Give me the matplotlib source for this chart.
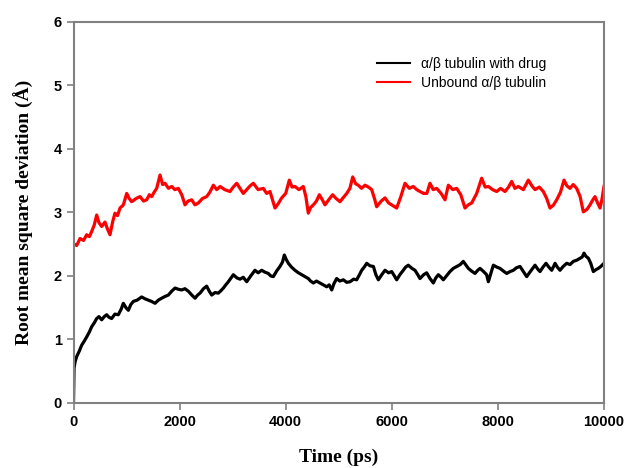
import matplotlib
matplotlib.use("Agg")
import matplotlib.pyplot as plt

# RMSD traces (time in ps, RMSD in Angstrom)
bound_t = [0, 10, 30, 60, 110, 154, 200, 248, 300, 342, 390, 437, 480, 531, 580,
           625, 670, 719, 780, 845, 900, 939, 990, 1034, 1080, 1128, 1200, 1285,
           1350, 1411, 1470, 1537, 1600, 1662, 1730, 1788, 1850, 1914, 1980, 2040,
           2100, 2165, 2230, 2291, 2340, 2385, 2450, 2510, 2560, 2605, 2670, 2730,
           2780, 2825, 2870, 2919, 2970, 3013, 3080, 3139, 3200, 3265, 3340, 3421,
           3480, 3547, 3610, 3672, 3720, 3767, 3830, 3892, 3940, 3974, 4010, 4050,
           4110, 4175, 4240, 4301, 4360, 4426, 4470, 4521, 4580, 4647, 4710, 4773,
           4820, 4867, 4910, 4961, 5020, 5087, 5150, 5213, 5280, 5338, 5390, 5433,
           5480, 5527, 5590, 5653, 5700, 5747, 5810, 5872, 5940, 5998, 6050, 6092,
           6160, 6217, 6260, 6311, 6380, 6437, 6490, 6531, 6600, 6657, 6720, 6783,
           6830, 6877, 6930, 6971, 7030, 7097, 7160, 7223, 7290, 7348, 7400, 7443,
           7500, 7568, 7620, 7663, 7730, 7788, 7820, 7870, 7914, 7980, 8040, 8100,
           8166, 8230, 8291, 8350, 8417, 8480, 8543, 8620, 8700, 8750, 8794, 8850,
           8907, 8960, 9014, 9050, 9077, 9120, 9171, 9230, 9297, 9360, 9422, 9490,
           9548, 9590, 9623, 9660, 9705, 9750, 9799, 9850, 9893, 9940, 10000]
bound_rmsd = [0.00, 0.55, 0.65, 0.73, 0.82, 0.91, 0.97, 1.04, 1.12, 1.20, 1.26, 1.33,
              1.36, 1.31, 1.36, 1.39, 1.35, 1.33, 1.40, 1.39, 1.48, 1.57, 1.50, 1.46,
              1.55, 1.60, 1.62, 1.67, 1.64, 1.62, 1.60, 1.57, 1.62, 1.65, 1.68, 1.70,
              1.76, 1.81, 1.79, 1.78, 1.80, 1.76, 1.70, 1.65, 1.70, 1.73, 1.80, 1.84,
              1.76, 1.70, 1.74, 1.73, 1.77, 1.81, 1.86, 1.91, 1.97, 2.02, 1.97, 1.95,
              1.98, 1.91, 2.00, 2.09, 2.05, 2.09, 2.06, 2.04, 2.00, 1.99, 2.08, 2.15,
              2.22, 2.33, 2.26, 2.20, 2.14, 2.09, 2.05, 2.02, 1.99, 1.96, 1.92, 1.89,
              1.92, 1.89, 1.86, 1.83, 1.86, 1.78, 1.88, 1.96, 1.92, 1.94, 1.90, 1.91,
              1.95, 1.94, 2.02, 2.09, 2.14, 2.20, 2.16, 2.15, 2.02, 1.94, 2.02, 2.09,
              2.05, 2.07, 2.00, 1.94, 2.03, 2.09, 2.14, 2.17, 2.12, 2.09, 2.02, 1.96,
              2.02, 2.05, 1.96, 1.89, 1.97, 2.02, 1.98, 1.94, 2.00, 2.07, 2.12, 2.15,
              2.18, 2.23, 2.17, 2.12, 2.08, 2.04, 2.09, 2.12, 2.07, 2.02, 1.91, 2.05,
              2.17, 2.14, 2.12, 2.08, 2.04, 2.07, 2.09, 2.13, 2.15, 2.07, 1.99, 2.08,
              2.17, 2.11, 2.07, 2.14, 2.20, 2.14, 2.09, 2.15, 2.20, 2.14, 2.09, 2.15,
              2.20, 2.18, 2.23, 2.25, 2.28, 2.30, 2.36, 2.31, 2.28, 2.20, 2.07, 2.10,
              2.12, 2.15, 2.20]

unbound_t = [0, 60, 123, 190, 248, 300, 342, 390, 437, 480, 531, 594, 640, 688, 740,
             782, 830, 877, 940, 1003, 1050, 1097, 1180, 1254, 1320, 1380, 1430, 1474,
             1520, 1568, 1631, 1680, 1725, 1790, 1851, 1910, 1976, 2040, 2102, 2160,
             2228, 2290, 2353, 2430, 2510, 2570, 2636, 2700, 2762, 2850, 2950, 3010,
             3077, 3139, 3200, 3265, 3330, 3390, 3480, 3578, 3640, 3704, 3798, 3860,
             3924, 4000, 4068, 4120, 4175, 4250, 4332, 4380, 4426, 4470, 4521, 4580,
             4634, 4690, 4741, 4810, 4885, 4950, 5024, 5090, 5150, 5210, 5263, 5320,
             5369, 5430, 5495, 5560, 5621, 5680, 5715, 5800, 5872, 5940, 5998, 6092,
             6170, 6249, 6330, 6405, 6470, 6531, 6600, 6660, 6720, 6780, 6846, 6930,
             7003, 7066, 7150, 7223, 7300, 7380, 7440, 7506, 7600, 7694, 7760, 7820,
             7900, 7977, 8050, 8134, 8200, 8260, 8320, 8385, 8480, 8574, 8640, 8700,
             8780, 8856, 8920, 8982, 9050, 9108, 9180, 9246, 9300, 9359, 9420, 9485,
             9550, 9610, 9680, 9736, 9790, 9830, 9880, 9925, 9960, 10000]
unbound_rmsd = [2.51, 2.48, 2.59, 2.56, 2.65, 2.62, 2.70, 2.80, 2.96, 2.84, 2.78, 2.85,
                2.74, 2.65, 2.86, 2.99, 2.95, 3.07, 3.12, 3.30, 3.22, 3.17, 3.22, 3.25,
                3.18, 3.20, 3.28, 3.25, 3.32, 3.38, 3.59, 3.44, 3.46, 3.38, 3.41, 3.36,
                3.38, 3.28, 3.12, 3.18, 3.20, 3.12, 3.15, 3.22, 3.25, 3.32, 3.43, 3.36,
                3.41, 3.36, 3.33, 3.40, 3.46, 3.38, 3.30, 3.36, 3.42, 3.46, 3.36, 3.38,
                3.30, 3.33, 3.07, 3.14, 3.23, 3.30, 3.51, 3.40, 3.41, 3.36, 3.41, 3.25,
                2.99, 3.08, 3.12, 3.18, 3.28, 3.20, 3.12, 3.20, 3.28, 3.22, 3.17, 3.24,
                3.30, 3.38, 3.56, 3.45, 3.43, 3.38, 3.43, 3.40, 3.36, 3.20, 3.09, 3.18,
                3.23, 3.15, 3.12, 3.07, 3.25, 3.46, 3.38, 3.41, 3.36, 3.33, 3.30, 3.30,
                3.46, 3.36, 3.38, 3.30, 3.20, 3.43, 3.36, 3.38, 3.28, 3.07, 3.12, 3.15,
                3.30, 3.54, 3.40, 3.41, 3.36, 3.33, 3.38, 3.33, 3.40, 3.49, 3.38, 3.41,
                3.36, 3.51, 3.42, 3.36, 3.40, 3.33, 3.22, 3.07, 3.12, 3.20, 3.32, 3.51,
                3.42, 3.38, 3.44, 3.38, 3.25, 3.01, 3.05, 3.12, 3.20, 3.25, 3.15, 3.07,
                3.20, 3.41]

x_ticks = [0, 2000, 4000, 6000, 8000, 10000]
y_ticks = [0, 1, 2, 3, 4, 5, 6]

fig = plt.figure(figsize=(6.25, 4.68), dpi=100)
ax = fig.add_axes([0.1176, 0.1389, 0.8488, 0.8141])

ax.plot(bound_t, bound_rmsd, color='black', lw=2.3, label='\u03b1/\u03b2 tubulin with drug')
ax.plot(unbound_t, unbound_rmsd, color='#ff0000', lw=2.3, label='Unbound \u03b1/\u03b2 tubulin')

ax.set_xlim(0, 10000)
ax.set_ylim(0, 6)
ax.set_xticks(x_ticks)
ax.set_yticks(y_ticks)

for s in ax.spines.values():
    s.set_color('#808080')
    s.set_linewidth(1.5)
ax.tick_params(direction='out', length=5, width=1.2, color='#808080', top=False, right=False)
for lab in ax.get_xticklabels() + ax.get_yticklabels():
    lab.set_fontfamily('Liberation Sans')
    lab.set_fontweight('bold')
    lab.set_fontsize(10.5)

ax.set_xlabel('Time (ps)', family='Liberation Serif', fontweight='bold', fontsize=14, labelpad=14)
ax.set_ylabel('Root mean square deviation (\u00c5)', family='Liberation Serif',
              fontweight='bold', fontsize=14, labelpad=14)

leg = ax.legend(loc='upper right', bbox_to_anchor=(0.915, 0.94), frameon=False,
                prop={'family': 'Liberation Sans', 'size': 10},
                handlelength=2.4, handletextpad=0.8, labelspacing=0.3)
for h in leg.get_lines():
    h.set_linewidth(1.5)

fig.savefig('out.png', dpi=100)
